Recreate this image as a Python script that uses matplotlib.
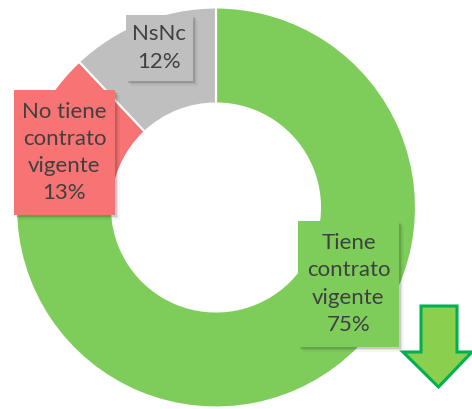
import matplotlib
matplotlib.use("Agg")
import matplotlib.pyplot as plt
from matplotlib.patches import Rectangle, Polygon

categories = ["Tiene\ncontrato\nvigente", "No tiene\ncontrato\nvigente", "NsNc"]
values = [75, 13, 12]
colors = ["#7ECD5B", "#F87373", "#BFBFBF"]
box_centers = [(0.6625, -0.3825), (-0.7575, 0.275), (-0.2825, 0.7975)]
box_sizes = [(0.505, 0.63), (0.505, 0.625), (0.335, 0.33)]

plt.rcParams['font.family'] = ['Lato', 'DejaVu Sans']

fig = plt.figure(figsize=(4.72, 4.09), dpi=100)
ax = fig.add_axes([0, 0, 1, 1])
ax.pie(values, colors=colors, startangle=90, counterclock=False, radius=1.0,
       wedgeprops=dict(width=0.48, edgecolor="white", linewidth=1.5))
ax.set_xlim(-1.08, 1.28)
ax.set_ylim(-1.0075, 1.0375)
ax.set_aspect("equal")
ax.axis("off")

for cat, val, col, (cx, cy), (w, h) in zip(categories, values, colors, box_centers, box_sizes):
    # shadow
    for k, a in enumerate([0.10, 0.07, 0.04]):
        off = 0.008 * (k + 1)
        ax.add_patch(Rectangle((cx - w / 2 + off, cy - h / 2 - off), w, h,
                               facecolor="black", edgecolor="none", alpha=a, zorder=3))
    ax.add_patch(Rectangle((cx - w / 2, cy - h / 2), w, h, facecolor=col,
                           edgecolor="none", zorder=4))
    ax.text(cx, cy, f"{cat}\n{val}%", ha="center", va="center", fontsize=16,
            color="#404040", linespacing=1.45, zorder=5)

# decorative down arrow
arrow = Polygon([(1.025, -0.4925), (1.205, -0.4925), (1.205, -0.7225), (1.28, -0.7225),
                 (1.1125, -0.8975), (0.935, -0.7225), (1.025, -0.7225)],
                closed=True, facecolor="#8ACF4E", edgecolor="#00B050", linewidth=2.2, zorder=5)
ax.add_patch(arrow)

fig.savefig("out.png", dpi=100)
